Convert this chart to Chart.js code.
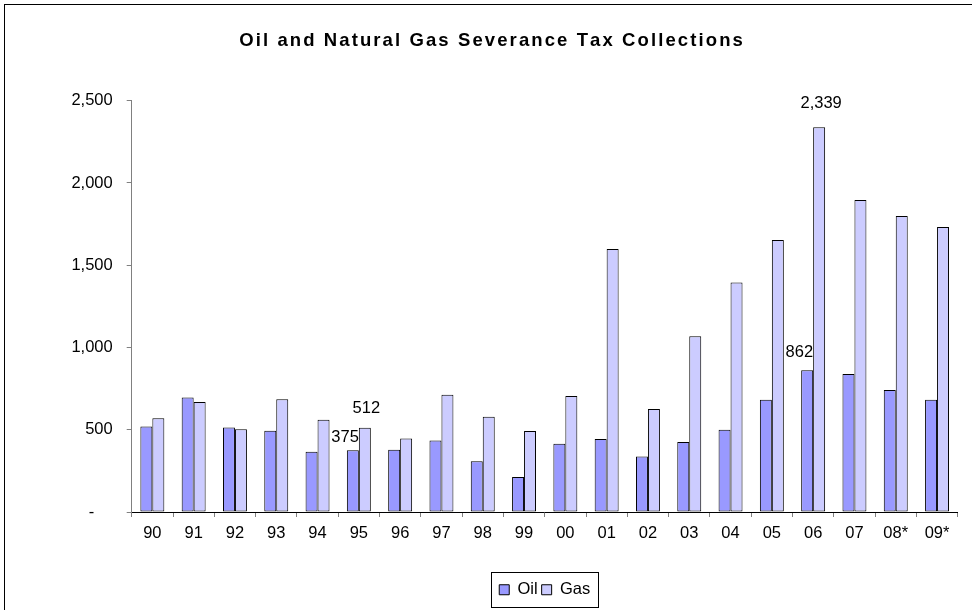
<!DOCTYPE html>
<html>
<head>
<meta charset="utf-8">
<script src="https://cdn.jsdelivr.net/npm/chart.js@4/dist/chart.umd.min.js"></script>
<style>
  html, body { margin: 0; padding: 0; background: #fff; }
  #wrap { width: 972px; height: 610px; }
</style>
</head>
<body>
<div id="wrap"><canvas id="chart" width="972" height="610"></canvas></div>
<script>
const years = ['90', '91', '92', '93', '94', '95', '96', '97', '98', '99',
               '00', '01', '02', '03', '04', '05', '06', '07', '08*', '09*'];
const oilTax = [520, 696, 513, 494, 366, 375, 379, 435, 309, 212,
                415, 443, 338, 425, 500, 683, 862, 839, 741, 683];
const gasTax = [570, 668, 503, 685, 561, 512, 446, 713, 579, 492,
                705, 1598, 626, 1068, 1395, 1654, 2339, 1896, 1799, 1733];
const yMax = 2500;
const yStep = 500;

const FONT = "'Liberation Sans', Arial, sans-serif";
const titleText = 'Oil and Natural Gas Severance Tax Collections';

// bars that carry a value label: dataset index, category index, placement
const valueLabels = [
    { series: 0, index: 5, align: 'right', dx: 0, dy: 13 },
    { series: 1, index: 5, align: 'center', dx: 1.5, dy: 19 },
    { series: 0, index: 16, align: 'right', dx: 0, dy: 18 },
    { series: 1, index: 16, align: 'center', dx: 2, dy: 24 },
];

const fmt = (v) => v.toLocaleString('en-US');

const framePlugin = {
    id: 'frame',
    beforeDraw(chart) {
        const ctx = chart.ctx;
        ctx.save();
        ctx.fillStyle = '#fff';
        ctx.fillRect(0, 0, chart.width, chart.height);
        ctx.restore();
    },
    afterDraw(chart) {
        const ctx = chart.ctx;
        ctx.save();
        // outer chart border
        ctx.strokeStyle = '#000';
        ctx.lineWidth = 1;
        ctx.strokeRect(4.5, 4.5, chart.width + 20, chart.height + 20);

        // title, drawn letter by letter for the wide spacing
        ctx.font = 'bold 18.5px ' + FONT;
        ctx.fillStyle = '#000';
        ctx.textBaseline = 'alphabetic';
        ctx.textAlign = 'left';
        const spacing = 2.1;
        const chars = titleText.split('');
        let total = 0;
        chars.forEach((c) => { total += ctx.measureText(c).width + spacing; });
        total -= spacing;
        let x = (chart.width + 10) / 2 - total / 2;
        chars.forEach((c) => {
            ctx.fillText(c, x, 45.5);
            x += ctx.measureText(c).width + spacing;
        });

        // box around the legend
        const boxes = chart.legend.legendHitBoxes;
        if (boxes && boxes.length) {
            const first = boxes[0];
            const last = boxes[boxes.length - 1];
            const cy = first.top + first.height / 2;
            const left = Math.round(first.left - 8) + 0.5;
            const right = Math.round(last.left + last.width + 8) + 0.5;
            const top = Math.round(cy - 17.5) + 0.5;
            const bottom = Math.round(cy + 17.5) + 0.5;
            ctx.strokeRect(left, top, right - left, bottom - top);
        }
        ctx.restore();
    }
};

const valueLabelPlugin = {
    id: 'valueLabels',
    afterDatasetsDraw(chart) {
        const ctx = chart.ctx;
        ctx.save();
        ctx.font = '16.5px ' + FONT;
        ctx.fillStyle = '#000';
        ctx.textBaseline = 'middle';
        valueLabels.forEach((l) => {
            const bar = chart.getDatasetMeta(l.series).data[l.index];
            const value = chart.data.datasets[l.series].data[l.index];
            let x;
            if (l.align === 'right') {
                ctx.textAlign = 'right';
                x = bar.x + bar.width / 2 + l.dx;
            } else {
                ctx.textAlign = 'center';
                x = bar.x + l.dx;
            }
            ctx.fillText(fmt(value), x, bar.y - l.dy);
        });
        ctx.restore();
    }
};

new Chart(document.getElementById('chart'), {
    type: 'bar',
    data: {
        labels: years,
        datasets: [
            {
                label: 'Oil',
                data: oilTax,
                backgroundColor: '#9999FF',
                borderColor: '#000',
                borderWidth: 1,
                borderSkipped: false,
            },
            {
                label: 'Gas',
                data: gasTax,
                backgroundColor: '#CCCCFF',
                borderColor: '#000',
                borderWidth: 1,
                borderSkipped: false,
            }
        ]
    },
    options: {
        responsive: false,
        animation: false,
        events: [],
        layout: {
            padding: { top: 100.7, right: 14.3, bottom: 2, left: 0 }
        },
        datasets: {
            bar: { categoryPercentage: 0.58, barPercentage: 1.0 }
        },
        scales: {
            x: {
                grid: {
                    offset: true,
                    drawOnChartArea: false,
                    drawTicks: true,
                    tickLength: 5,
                    tickColor: '#808080',
                },
                border: { color: '#000', width: 1 },
                ticks: {
                    color: '#000',
                    padding: 7,
                    font: { family: FONT, size: 16.5 },
                    maxRotation: 0,
                    autoSkip: false,
                },
                afterFit(scale) { scale.height = 65.5; }
            },
            y: {
                min: 0,
                max: yMax,
                grid: {
                    drawOnChartArea: false,
                    drawTicks: true,
                    tickLength: 5,
                    tickColor: '#808080',
                },
                border: { color: '#808080', width: 1 },
                ticks: {
                    stepSize: yStep,
                    color: '#000',
                    padding: 14,
                    font: { family: FONT, size: 16.5 },
                    callback: (v) => (v === 0 ? '-    ' : fmt(v)),
                },
                afterFit(scale) { scale.width = 131.7; }
            }
        },
        plugins: {
            title: { display: false },
            tooltip: { enabled: false },
            legend: {
                position: 'bottom',
                fullSize: false,
                labels: {
                    color: '#000',
                    boxWidth: 10,
                    boxHeight: 10,
                    padding: 4,
                    font: { family: FONT, size: 16.5 },
                }
            }
        }
    },
    plugins: [framePlugin, valueLabelPlugin]
});
</script>
</body>
</html>
